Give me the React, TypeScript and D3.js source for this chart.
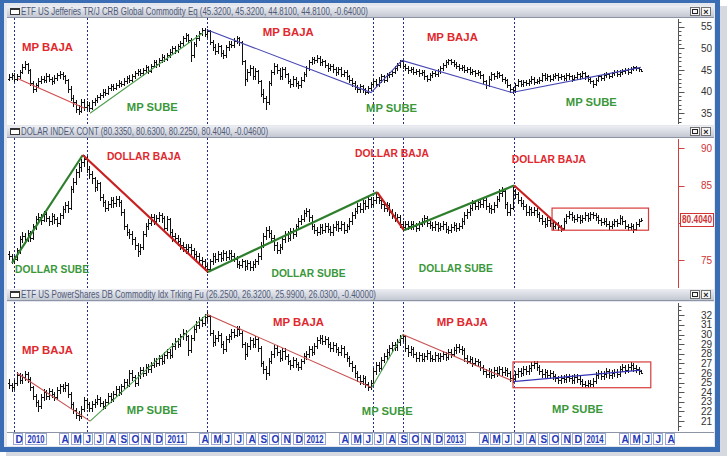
import React from "react";
import * as d3 from "d3";

// ---------- DATA ----------
const FIRST_FRIDAY = "2009-11-20"; // weekly bars, one per Friday

// weekly bars [low, high, close]; each bar opens at the previous close
const crbOpen0 = 43.0;
const crbBars: number[][] = [
  [42.6,44.0,43.3],[42.9,44.4,43.8],[42.5,44.2,43.0],[42.6,44.1,43.5],[43.2,45.0,44.5],[44.2,46.4,45.8],[45.2,47.0,46.3],[44.4,46.6,45.0],[41.5,45.2,42.0],[40.0,42.4,40.5],
  [40.2,42.0,41.5],[41.0,43.2,42.5],[42.0,43.6,43.0],[42.2,43.5,42.8],[42.3,44.2,43.5],[42.5,44.0,43.0],[41.8,43.4,42.5],[42.0,43.8,43.2],[42.8,44.3,43.8],[43.2,44.8,44.0],
  [43.0,44.5,43.5],[42.0,43.9,42.8],[40.0,43.0,40.5],[38.0,41.2,38.5],[36.8,39.2,37.5],[35.3,38.0,36.0],[34.8,37.0,35.5],[35.2,38.2,37.5],[35.8,38.4,36.5],[36.0,37.8,37.0],
  [35.6,37.5,36.2],[35.9,38.0,37.5],[37.0,38.6,38.0],[37.6,39.3,38.8],[38.3,39.8,39.2],[38.8,40.5,40.0],[39.2,40.6,39.8],[39.4,41.3,40.8],[40.3,41.8,41.2],[40.4,41.7,40.9],
  [40.5,42.1,41.6],[41.1,42.6,42.0],[41.3,42.5,41.8],[41.5,43.1,42.5],[42.1,43.7,43.2],[42.3,43.8,42.8],[42.4,44.1,43.6],[43.2,44.8,44.2],[43.8,45.3,44.8],[43.8,45.2,44.3],
  [43.9,45.5,45.0],[44.6,46.2,45.6],[44.2,45.9,44.8],[44.5,46.5,46.0],[45.6,47.4,46.8],[45.7,47.2,46.3],[46.0,47.8,47.2],[46.8,48.6,48.0],[47.0,48.5,47.6],[47.2,49.0,48.4],
  [48.0,49.8,49.2],[48.8,50.6,50.0],[49.0,50.5,49.6],[49.2,51.0,50.5],[50.0,51.8,51.2],[50.8,52.8,52.3],[51.8,53.6,53.0],[51.4,53.4,52.0],[47.0,52.3,48.5],[48.0,51.5,51.0],
  [50.6,53.0,52.5],[52.0,54.0,53.6],[53.0,54.8,54.3],[52.8,54.6,53.4],[52.6,54.5,54.0],[51.0,54.2,51.5],[49.6,52.0,50.3],[48.8,51.0,49.5],[49.0,51.2,50.5],[48.2,50.8,49.0],
  [47.8,49.6,48.5],[48.0,50.8,50.2],[49.6,51.6,51.0],[50.2,51.6,50.8],[50.3,52.4,51.8],[51.2,52.9,52.3],[50.8,52.6,51.5],[46.5,51.8,47.0],[41.5,47.3,43.0],[42.5,45.2,44.5],
  [43.8,46.2,45.5],[43.0,46.0,43.5],[43.0,45.4,44.8],[42.0,45.0,42.5],[39.0,42.8,39.5],[37.6,40.5,38.5],[36.0,39.0,37.5],[37.2,42.5,42.0],[41.5,45.0,44.5],[44.0,46.6,46.0],
  [44.3,46.5,45.0],[43.0,45.4,43.5],[43.0,45.8,45.2],[43.4,45.6,44.0],[42.0,44.3,42.5],[41.0,43.0,41.8],[41.4,43.6,43.0],[41.4,43.4,42.0],[40.8,42.5,41.5],[41.0,43.3,42.8],
  [42.4,44.5,44.0],[43.6,46.0,45.5],[45.0,47.3,46.8],[46.3,48.0,47.5],[46.6,48.1,47.2],[46.8,48.4,47.8],[46.2,48.2,46.8],[46.2,47.6,47.0],[45.6,47.4,46.2],[44.8,46.6,45.5],
  [45.0,46.5,46.0],[44.6,46.4,45.2],[43.9,45.6,44.5],[44.0,45.8,45.3],[43.5,45.6,44.0],[43.5,45.1,44.6],[42.9,45.0,43.5],[42.2,43.9,42.8],[41.4,43.2,42.0],[40.5,42.4,41.0],
  [39.9,41.5,40.5],[40.0,41.8,41.3],[40.0,41.6,40.5],[39.5,40.9,40.0],[39.7,41.3,40.8],[40.4,42.3,41.8],[41.3,43.0,42.5],[41.2,42.9,41.8],[41.4,43.3,42.8],[42.3,44.0,43.5],
  [42.3,43.9,42.8],[42.5,44.2,43.8],[43.3,44.6,44.0],[43.6,45.0,44.5],[44.2,46.0,45.5],[45.0,46.7,46.2],[45.8,47.4,47.0],[45.5,47.2,46.0],[45.0,46.4,45.5],[44.4,45.9,45.0],
  [44.6,45.8,45.3],[44.0,45.6,44.5],[44.0,45.3,44.8],[43.7,45.2,44.2],[43.8,45.0,44.6],[43.0,44.9,43.5],[42.4,43.9,43.0],[42.6,44.3,43.8],[43.4,44.7,44.2],[43.5,44.8,44.0],
  [43.6,45.2,44.8],[44.4,46.0,45.5],[45.1,46.6,46.2],[45.8,47.2,46.8],[46.3,47.6,47.2],[46.3,47.5,46.8],[46.0,47.2,46.5],[45.5,46.9,46.0],[45.0,46.4,45.5],[45.0,46.2,45.8],
  [44.5,46.1,45.0],[44.6,45.8,45.3],[44.1,45.6,44.6],[44.1,45.2,44.8],[43.7,45.1,44.2],[43.8,45.0,44.5],[43.2,44.8,43.8],[42.0,44.1,42.5],[40.9,42.8,41.5],[41.2,43.5,43.0],
  [42.6,44.5,44.0],[43.0,44.4,43.5],[43.1,44.7,44.2],[43.3,44.6,43.8],[42.5,44.1,43.0],[42.0,43.4,42.6],[41.0,42.9,41.5],[39.9,41.8,40.5],[39.6,41.0,40.3],[40.0,42.0,41.5],
  [41.2,43.0,42.5],[41.3,42.8,41.8],[41.4,42.8,42.3],[41.5,42.7,42.0],[41.6,43.0,42.5],[42.1,43.6,43.0],[41.8,43.3,42.3],[41.9,43.0,42.5],[42.1,43.3,42.8],[42.5,44.3,43.8],
  [42.7,44.2,43.2],[42.8,44.0,43.5],[42.5,43.9,43.0],[42.6,44.1,43.6],[43.1,44.3,43.8],[42.8,44.2,43.3],[42.9,44.0,43.5],[42.7,43.9,43.2],[42.8,44.4,43.8],[43.0,44.2,43.5],
  [42.4,43.9,43.0],[42.6,43.8,43.3],[43.0,44.6,44.0],[43.0,44.4,43.5],[43.1,44.7,44.2],[43.0,44.5,43.5],[42.5,43.9,43.0],[41.9,43.4,42.5],[41.0,42.8,41.8],[41.5,43.2,42.8],
  [42.4,43.9,43.5],[42.7,43.9,43.2],[42.8,44.2,43.8],[43.3,44.5,44.0],[43.1,44.4,43.6],[43.3,44.6,44.2],[43.8,45.0,44.5],[43.5,44.9,44.0],[43.7,45.0,44.6],[44.1,45.3,44.8],
  [44.3,45.5,45.0],[44.1,45.4,44.6],[44.3,45.6,45.2],[44.9,46.0,45.6],[44.9,45.9,45.4],[44.8,45.8,45.3],[44.81,45.32,44.81],
];

const dxyOpen0 = 75.8;
const dxyBars: number[][] = [
  [75.1,76.2,75.5],[74.6,75.8,74.9],[74.6,75.6,75.2],[75.0,76.6,76.3],[76.0,78.2,77.8],[77.4,78.8,78.2],[77.3,78.6,77.8],[77.5,79.0,78.6],[77.6,78.9,78.0],[77.8,79.8,79.5],
  [79.2,80.9,80.5],[80.1,81.3,80.8],[79.9,81.2,80.4],[80.2,81.6,81.2],[80.2,81.5,80.6],[79.7,80.9,80.2],[79.9,81.3,80.9],[80.0,81.2,80.5],[79.6,80.8,80.0],[79.8,81.3,81.0],
  [80.7,82.2,81.8],[81.5,82.8,82.4],[81.4,82.9,82.0],[81.8,84.9,84.5],[84.1,86.0,85.5],[85.2,87.2,86.8],[86.2,88.0,87.5],[87.0,88.6,88.2],[87.6,89.1,88.6],[86.8,88.9,87.2],
  [86.0,87.6,86.5],[85.4,86.9,86.0],[84.3,86.2,84.8],[84.4,85.8,85.3],[83.0,85.5,83.5],[82.2,83.9,82.8],[81.6,83.1,82.0],[81.7,82.9,82.5],[82.1,83.5,83.0],[82.1,83.4,82.6],
  [82.3,83.6,83.2],[82.2,83.6,82.8],[81.0,83.0,81.5],[79.1,81.8,79.5],[78.3,79.9,78.8],[78.0,79.2,78.5],[77.2,78.9,77.8],[76.5,78.1,77.0],[75.6,77.3,76.2],[75.8,77.2,76.8],
  [76.5,78.9,78.5],[78.2,80.0,79.6],[79.2,80.5,80.0],[79.7,81.2,80.8],[79.8,81.2,80.3],[79.9,81.0,80.6],[80.2,81.5,81.0],[80.1,81.3,80.6],[78.9,80.9,79.3],[79.0,80.9,80.5],
  [78.4,80.7,78.8],[77.6,79.1,78.2],[77.5,78.6,78.0],[77.0,78.3,77.5],[76.5,77.9,77.0],[76.2,77.4,76.8],[76.0,77.2,76.5],[76.1,77.2,76.8],[75.8,77.1,76.3],[75.3,76.6,75.8],
  [75.1,76.2,75.6],[74.5,75.9,75.0],[74.3,75.4,74.8],[73.7,75.1,74.2],[73.4,74.6,73.8],[73.6,75.2,74.8],[74.5,75.9,75.5],[74.7,75.9,75.2],[74.9,76.2,75.8],[74.9,76.1,75.3],
  [75.0,76.3,75.9],[75.0,76.2,75.4],[75.1,76.4,76.0],[75.2,76.3,75.6],[74.8,75.9,75.2],[74.1,75.5,74.5],[73.9,74.9,74.3],[74.0,75.2,74.8],[73.7,75.0,74.2],[73.8,75.0,74.6],
  [73.6,74.9,74.0],[73.6,74.9,74.5],[74.1,75.2,74.8],[74.5,75.9,75.5],[75.2,77.4,77.0],[76.7,78.6,78.2],[77.8,79.4,79.0],[78.1,79.5,78.6],[77.5,79.0,78.0],[76.4,78.3,77.0],
  [75.9,77.4,76.3],[75.9,77.2,76.8],[76.5,78.2,77.8],[77.4,78.9,78.5],[77.5,78.9,78.0],[77.7,79.3,78.9],[78.0,79.3,78.5],[78.2,79.9,79.5],[79.1,80.6,80.2],[79.8,81.0,80.5],
  [80.2,81.7,81.3],[80.9,82.0,81.6],[80.3,81.9,80.8],[79.1,81.0,79.5],[78.6,79.9,79.0],[78.3,79.4,78.8],[78.5,79.8,79.4],[78.6,79.8,79.0],[78.7,80.0,79.6],[78.8,80.0,79.2],
  [78.3,79.6,78.7],[78.4,79.8,79.4],[79.0,80.3,79.9],[78.9,80.2,79.3],[79.0,80.2,79.8],[78.6,80.1,79.0],[78.7,79.9,79.5],[79.2,80.6,80.2],[79.9,81.4,81.0],[80.7,82.0,81.6],
  [81.3,82.6,82.2],[81.4,82.6,81.8],[81.5,83.0,82.6],[81.9,83.0,82.3],[82.0,83.6,83.2],[82.1,83.5,82.5],[82.2,83.4,83.0],[82.6,84.0,83.5],[82.6,83.9,83.0],[82.0,83.3,82.5],
  [81.6,82.9,82.0],[81.6,82.8,82.4],[81.1,82.6,81.5],[80.6,81.8,81.0],[80.2,81.4,80.6],[80.2,81.2,80.8],[79.4,81.0,79.8],[79.0,80.2,79.4],[79.1,80.2,79.8],[79.1,80.2,79.5],
  [79.2,80.3,79.9],[79.2,80.2,79.6],[78.9,80.0,79.3],[79.0,80.2,79.8],[79.5,80.6,80.2],[79.9,81.0,80.6],[79.6,80.9,80.0],[79.3,80.3,79.7],[79.0,80.1,79.4],[79.0,80.2,79.8],
  [78.9,80.1,79.3],[79.0,80.0,79.6],[79.2,80.2,79.8],[78.8,80.1,79.2],[78.6,79.6,79.0],[78.7,79.8,79.4],[79.0,80.1,79.7],[78.9,80.0,79.3],[79.0,80.0,79.6],[79.3,80.6,80.2],
  [79.9,81.4,81.0],[80.7,81.9,81.5],[81.1,82.4,82.0],[81.7,83.0,82.6],[81.8,83.0,82.2],[81.9,83.2,82.8],[82.1,83.2,82.5],[82.1,83.4,83.0],[81.8,83.3,82.2],[81.5,82.6,82.0],
  [81.3,82.4,81.8],[81.5,82.8,82.4],[82.1,83.6,83.2],[82.9,84.5,84.0],[83.6,84.8,84.3],[82.0,84.5,82.5],[81.0,82.8,81.5],[81.0,82.5,82.0],[81.8,84.8,84.2],[83.3,84.6,83.8],
  [82.6,84.1,83.0],[82.2,83.4,82.6],[81.8,83.0,82.2],[81.1,82.5,81.5],[81.1,82.2,81.8],[81.0,82.1,81.4],[81.0,82.1,81.7],[80.8,82.0,81.2],[80.2,81.5,80.6],[79.9,81.0,80.3],
  [79.4,80.6,79.8],[79.5,80.8,80.4],[79.6,80.7,80.0],[79.2,80.3,79.6],[79.3,80.1,79.8],[79.0,80.1,79.4],[78.9,79.7,79.3],[79.1,80.6,80.2],[80.0,81.2,80.9],[80.6,81.6,81.2],
  [80.4,81.5,80.8],[80.1,81.1,80.5],[80.2,81.2,80.8],[80.0,81.1,80.4],[80.1,81.1,80.7],[80.4,81.4,81.0],[80.3,81.3,80.6],[80.4,81.5,81.2],[80.6,81.5,81.0],[80.4,81.3,80.8],
  [80.0,81.1,80.4],[79.7,80.7,80.1],[79.8,80.6,80.3],[79.5,80.6,79.9],[79.2,80.2,79.6],[79.3,80.2,79.9],[79.6,80.5,80.2],[79.6,80.5,80.0],[79.8,81.0,80.6],[79.9,80.9,80.2],
  [79.3,80.4,79.6],[79.0,79.9,79.4],[79.1,80.0,79.6],[78.8,79.8,79.2],[79.0,80.1,79.8],[79.6,80.5,80.2],[80.225,80.63,80.404],
];

const dbcOpen0 = 25.0;
const dbcBars: number[][] = [
  [24.4,25.4,24.8],[24.1,25.0,24.5],[24.3,25.3,25.0],[24.8,26.1,25.8],[25.0,26.0,25.3],[25.0,25.9,25.6],[25.3,26.2,25.9],[25.1,26.1,25.4],[24.2,25.6,24.5],[23.3,24.7,23.6],
  [22.6,23.8,23.0],[22.1,23.2,22.6],[22.4,23.8,23.5],[23.2,24.3,24.0],[23.3,24.2,23.6],[23.3,24.4,24.1],[23.5,24.3,23.8],[23.2,24.0,23.5],[23.3,24.5,24.2],[23.9,24.9,24.6],
  [24.1,24.9,24.4],[24.1,25.1,24.8],[23.5,25.0,23.8],[22.4,24.0,22.8],[21.8,23.0,22.2],[21.3,22.4,21.6],[21.1,22.0,21.5],[21.3,22.6,22.3],[22.1,23.5,23.2],[22.4,23.4,22.8],
  [22.1,23.0,22.4],[22.1,23.1,22.8],[22.5,23.3,23.0],[22.8,23.7,23.3],[22.6,23.5,22.9],[22.3,23.1,22.6],[22.4,23.3,23.0],[22.8,23.9,23.6],[23.0,23.9,23.3],[23.1,24.1,23.8],
  [23.6,24.6,24.3],[23.7,24.6,24.0],[23.8,24.9,24.6],[24.4,25.4,25.1],[24.5,25.4,24.8],[24.6,26.3,26.0],[25.3,26.3,25.6],[24.7,25.8,25.0],[24.8,26.1,25.8],[25.5,26.6,26.3],
  [25.7,26.6,26.0],[25.8,26.9,26.6],[26.1,26.9,26.4],[26.1,27.1,26.8],[26.6,27.6,27.3],[26.7,27.6,27.0],[26.8,27.9,27.6],[26.9,27.9,27.2],[27.0,28.2,27.9],[27.6,28.5,28.2],
  [27.6,28.5,27.9],[27.7,29.1,28.8],[28.5,29.6,29.3],[28.7,29.6,29.0],[28.8,30.1,29.8],[29.5,30.6,30.2],[29.4,30.5,29.8],[27.9,30.0,28.4],[28.2,29.9,29.6],[29.4,30.9,30.6],
  [30.3,31.4,31.0],[30.7,31.8,31.5],[30.9,31.8,31.2],[31.0,32.1,31.8],[31.4,32.3,31.9],[29.9,32.0,30.2],[28.8,30.5,29.2],[28.9,29.9,29.6],[29.3,30.4,30.0],[28.7,30.2,29.0],
  [28.1,29.3,28.5],[28.3,29.8,29.5],[29.2,30.1,29.8],[29.5,30.6,30.3],[29.7,30.6,30.0],[29.8,30.9,30.6],[29.9,30.9,30.2],[28.7,30.4,29.0],[27.5,29.2,28.0],[27.8,29.1,28.8],
  [28.5,29.7,29.4],[28.7,29.6,29.0],[28.7,29.8,29.5],[28.3,29.7,28.6],[26.7,28.8,27.0],[26.0,27.3,26.4],[25.4,26.7,26.0],[25.8,27.6,27.3],[27.0,28.3,28.0],[27.7,28.9,28.6],
  [27.9,28.9,28.2],[27.3,28.4,27.6],[27.4,28.6,28.3],[27.5,28.6,27.8],[26.9,28.0,27.2],[26.4,27.4,26.8],[26.6,27.7,27.4],[26.6,27.6,26.9],[26.3,27.1,26.6],[26.4,27.5,27.2],
  [27.0,28.1,27.8],[27.5,28.3,28.0],[27.7,28.8,28.5],[27.9,28.8,28.2],[28.0,29.1,28.8],[28.6,29.7,29.4],[29.1,29.9,29.6],[29.0,29.9,29.3],[29.0,29.8,29.5],[28.7,29.7,29.0],
  [28.3,29.2,28.6],[28.3,29.2,28.9],[28.2,29.1,28.5],[27.9,28.7,28.2],[27.9,28.9,28.6],[27.7,28.8,28.0],[27.3,28.2,27.6],[26.7,27.8,27.0],[26.2,27.2,26.6],[25.6,26.8,26.0],
  [25.2,26.2,25.6],[24.9,25.8,25.2],[24.9,25.8,25.5],[24.5,25.7,24.9],[24.2,25.1,24.5],[24.3,25.3,25.0],[24.8,26.5,26.2],[25.9,27.1,26.8],[26.2,27.1,26.5],[26.3,27.7,27.4],
  [27.1,28.1,27.8],[27.5,28.5,28.2],[27.9,28.9,28.6],[28.3,29.2,28.9],[28.4,29.2,28.7],[28.4,29.5,29.2],[28.9,29.9,29.6],[29.3,30.1,29.8],[28.3,30.0,28.6],[27.8,28.9,28.2],
  [27.9,28.8,28.5],[27.7,28.7,28.0],[27.3,28.2,27.6],[27.3,28.2,27.9],[27.2,28.1,27.5],[27.2,28.1,27.8],[27.5,28.4,28.1],[27.3,28.3,27.6],[27.2,27.9,27.5],[27.2,28.2,27.9],
  [27.3,28.1,27.6],[27.3,28.1,27.8],[27.5,28.3,28.0],[27.4,28.2,27.7],[27.5,28.5,28.2],[27.7,28.5,28.0],[27.8,28.7,28.4],[28.1,29.0,28.7],[28.2,29.0,28.5],[28.0,28.8,28.4],
  [27.3,28.6,27.6],[27.0,27.9,27.3],[27.0,27.8,27.5],[26.7,27.7,27.0],[26.8,27.6,27.3],[26.8,27.5,27.1],[26.3,27.3,26.6],[25.9,26.8,26.2],[25.6,26.4,25.9],[25.6,26.5,26.2],
  [25.5,26.4,25.8],[25.6,26.6,26.3],[25.7,26.6,26.0],[25.8,26.7,26.4],[25.8,26.6,26.1],[25.8,26.6,26.3],[25.7,26.5,26.0],[25.2,26.2,25.5],[25.1,25.8,25.4],[25.2,26.2,25.9],
  [25.6,26.5,26.2],[25.7,26.5,26.0],[25.8,26.7,26.4],[25.9,26.7,26.2],[25.9,26.8,26.5],[26.2,27.1,26.8],[26.5,27.2,27.0],[26.3,27.2,26.6],[25.9,26.8,26.2],[25.6,26.4,25.9],
  [25.6,26.4,26.1],[25.5,26.3,25.8],[25.5,26.3,26.0],[25.4,26.2,25.7],[25.2,25.9,25.5],[25.0,25.7,25.3],[25.0,25.8,25.5],[25.1,25.8,25.4],[25.1,25.9,25.6],[25.2,25.9,25.5],
  [25.0,25.8,25.3],[25.0,25.9,25.6],[25.1,25.9,25.4],[24.9,25.7,25.2],[24.6,25.4,24.9],[24.5,25.2,24.8],[24.5,25.3,25.0],[24.6,25.3,24.9],[24.6,25.5,25.2],[25.0,26.1,25.8],
  [25.5,26.3,26.0],[25.4,26.2,25.7],[25.4,26.2,25.9],[25.6,26.5,26.2],[25.5,26.4,25.8],[25.5,26.3,26.0],[25.7,26.4,26.1],[25.6,26.4,25.9],[25.7,26.7,26.4],[26.2,26.9,26.6],
  [26.0,26.8,26.3],[26.1,26.9,26.6],[26.3,27.1,26.8],[26.2,27.0,26.5],[26.1,26.8,26.4],[25.9,26.6,26.2],[25.99,26.32,26.03],
];

// titles
const crbTitle = "ETF US Jefferies TR/J CRB Global Commodity Eq (45.3200, 45.3200, 44.8100, 44.8100, -0.64000)";
const dxyTitle = "DOLAR INDEX CONT (80.3350, 80.6300, 80.2250, 80.4040, -0.04600)";
const dbcTitle = "ETF US PowerShares DB Commodity Idx Trking Fu (26.2500, 26.3200, 25.9900, 26.0300, -0.40000)";

// axis tick labels (the dollar's 80 tick sits under the last-value box)
const crbTicks = [35, 40, 45, 50, 55];
const dxyTicks = [75, 85, 90];
const dxyTickMarks = [75, 80, 85, 90];
const dbcTicks = [21, 22, 23, 24, 25, 26, 27, 28, 29, 30, 31, 32];
const dxyLast = 80.404;

// vertical dotted turning-point dates
const eventDates = ["2009-12-04", "2010-06-11", "2011-04-22", "2012-06-27", "2012-09-14", "2013-07-01"];

// trend lines: [date, price] vertices
type Trend = { c: string; pts: [string, number][] };
const crbTrends: Trend[] = [
  { c: "red", pts: [["2009-12-14", 43.0], ["2010-06-07", 36.1]] },
  { c: "green", pts: [["2010-06-20", 35.0], ["2011-04-11", 53.6]] },
  { c: "blue", pts: [["2011-04-21", 54.3], ["2012-06-23", 39.8], ["2012-09-12", 47.2], ["2013-06-26", 39.8], ["2014-05-29", 45.6]] },
];
const dxyTrends: Trend[] = [
  { c: "green", pts: [["2009-11-28", 74.6], ["2010-06-01", 89.1]] },
  { c: "red", pts: [["2010-06-01", 89.1], ["2011-04-24", 73.4]] },
  { c: "green", pts: [["2011-04-24", 73.4], ["2012-07-09", 84.1]] },
  { c: "red", pts: [["2012-07-09", 84.1], ["2012-09-17", 79.0]] },
  { c: "green", pts: [["2012-09-17", 79.0], ["2013-07-02", 85.0]] },
  { c: "red", pts: [["2013-07-02", 85.0], ["2013-11-09", 79.0]] },
];
const dbcTrends: Trend[] = [
  { c: "red", pts: [["2009-12-11", 26.0], ["2010-06-20", 21.0]] },
  { c: "green", pts: [["2010-06-20", 21.0], ["2011-04-21", 32.1]] },
  { c: "red", pts: [["2011-04-21", 32.1], ["2012-06-25", 24.5]] },
  { c: "green", pts: [["2012-06-25", 24.5], ["2012-09-14", 30.0]] },
  { c: "red", pts: [["2012-09-14", 30.0], ["2013-06-26", 25.2]] },
  { c: "blue", pts: [["2013-06-29", 25.1], ["2014-05-29", 26.3]] },
];

// range boxes [fromDate, toDate, low, high]
const dxyBox: [string, string, number, number] = ["2013-10-09", "2014-06-18", 79.0, 81.97];
const dbcBox: [string, string, number, number] = ["2013-06-29", "2014-06-24", 24.47, 27.15];

// annotations [date, price(baseline), text, kind]
type Note = [string, number, string, "up" | "down"];
const crbNotes: Note[] = [
  ["2009-12-24", 49.4, "MP BAJA", "down"],
  ["2010-09-24", 35.5, "MP SUBE", "up"],
  ["2011-09-14", 52.85, "MP BAJA", "down"],
  ["2012-11-16", 51.7, "MP BAJA", "down"],
  ["2012-06-10", 35.3, "MP SUBE", "up"],
  ["2013-11-14", 36.7, "MP SUBE", "up"],
];
const dxyNotes: Note[] = [
  ["2010-08-03", 88.43, "DOLLAR BAJA", "down"],
  ["2009-12-06", 73.26, "DOLLAR SUBE", "up"],
  ["2011-10-07", 72.73, "DOLLAR SUBE", "up"],
  ["2012-05-12", 88.83, "DOLLAR BAJA", "down"],
  ["2013-06-26", 88.03, "DOLLAR BAJA", "down"],
  ["2012-10-26", 73.4, "DOLLAR SUBE", "up"],
];
const dbcNotes: Note[] = [
  ["2009-12-24", 27.98, "MP BAJA", "down"],
  ["2010-09-24", 21.74, "MP SUBE", "up"],
  ["2011-10-11", 30.89, "MP BAJA", "down"],
  ["2012-12-12", 30.89, "MP BAJA", "down"],
  ["2012-05-30", 21.64, "MP SUBE", "up"],
  ["2013-10-09", 21.84, "MP SUBE", "up"],
];

const monthLetters = ["J", "F", "M", "A", "M", "J", "J", "A", "S", "O", "N", "D"];

// ---------- CHART ----------
const parse = d3.timeParse("%Y-%m-%d");
const P = (s: string) => parse(s) as Date;

const PLOT_L = 7, PLOT_R = 677, RIGHT = 714;

export default function App() {
  const x = d3.scaleTime().domain([new Date(2010, 0, 1), new Date(2014, 0, 1)]).range([25, 584.2]);
  const start = P(FIRST_FRIDAY);
  const weekX = (i: number) => x(d3.timeDay.offset(start, 7 * i));

  const panels = [
    {
      id: "p1", title: crbTitle, titleW: 347, titleTop: 6, top: 17, bottom: 125,
      bars: crbBars, open0: crbOpen0, y: d3.scaleLinear().domain([35, 55]).range([113.3, 26.7]),
      ticks: crbTicks, tickMarks: crbTicks, minor: d3.range(33, 58, 1), minorLen: 3, majorLen: 6, axisColor: "#555", labelColor: "#333",
      trends: crbTrends, trendW: 1.1, notes: crbNotes, box: null as any, last: null as any,
    },
    {
      id: "p2", title: dxyTitle, titleW: 247, titleTop: 126, top: 137, bottom: 289,
      bars: dxyBars, open0: dxyOpen0, y: d3.scaleLinear().domain([75, 90]).range([260, 148.3]),
      ticks: dxyTicks, tickMarks: dxyTickMarks, minor: [] as number[], minorLen: 0, majorLen: 6, axisColor: "#d04040", labelColor: "#d03434",
      trends: dxyTrends, trendW: 2.2, notes: dxyNotes, box: dxyBox, last: dxyLast,
    },
    {
      id: "p3", title: dbcTitle, titleW: 355, titleTop: 289, top: 301, bottom: 432,
      bars: dbcBars, open0: dbcOpen0, y: d3.scaleLinear().domain([21, 32]).range([421.1, 315.3]),
      ticks: dbcTicks, tickMarks: dbcTicks, minor: d3.range(20.5, 33.5, 0.5), minorLen: 3, majorLen: 6, axisColor: "#555", labelColor: "#333",
      trends: dbcTrends, trendW: 1.1, notes: dbcNotes, box: dbcBox, last: null as any,
    },
  ];

  const trendColor: Record<string, Record<string, string>> = {
    p1: { red: "#d24a4a", green: "#4e9d4e", blue: "#4646b4" },
    p2: { red: "#c82020", green: "#2d7e2d", blue: "#3030b0" },
    p3: { red: "#c85050", green: "#4e9d4e", blue: "#3535b8" },
  };

  const months = d3.timeMonth.range(new Date(2009, 11, 1), new Date(2014, 8, 1)).filter((m) => m.getMonth() !== 1 && m.getMonth() !== 2);

  return (
    <svg width={728} height={456} style={{ position: "absolute", left: 0, top: 0, background: "#fff" }} fontFamily="Arial, 'Liberation Sans', sans-serif">
      <defs>
        <linearGradient id="tb" x1="0" y1="0" x2="0" y2="1">
          <stop offset="0" stopColor="#eceef3" />
          <stop offset="1" stopColor="#c4c8d2" />
        </linearGradient>
        {panels.map((p) => (
          <clipPath id={`clip-${p.id}`} key={p.id}>
            <rect x={PLOT_L} y={p.top} width={PLOT_R - PLOT_L} height={p.bottom - p.top} />
          </clipPath>
        ))}
      </defs>

      {/* window frame with shadow */}
      <rect x={6} y={6} width={721} height={450} fill="#d6d9df" />
      <rect x={0} y={0} width={720} height={452} fill="#3a6db4" />
      <rect x={4} y={3} width={711} height={444} fill="#e4e7ee" />

      {panels.map((p) => {
        const y = p.y;
        // OHLC bars
        let prev = p.open0;
        let d = "";
        p.bars.forEach((b, i) => {
          const [lo, hi, c] = b;
          const o = prev;
          prev = c;
          const cx = Math.round(weekX(i)) + 0.5;
          const yt = Math.round(y(Math.max(hi, o, c)));
          const yb = Math.round(y(Math.min(lo, o, c)));
          const yo = Math.round(y(o)) + 0.5;
          const yc = Math.round(y(c)) + 0.5;
          d += `M${cx},${yt}V${yb + 1}M${cx - 1.5},${yo}H${cx - 0.5}M${cx + 0.5},${yc}H${cx + 1.5}`;
        });
        const line = d3.line<[string, number]>().x((v) => x(P(v[0]))).y((v) => y(v[1]));
        const colors = trendColor[p.id];
        return (
          <g key={p.id}>
            {/* title bar */}
            <rect x={PLOT_L} y={p.titleTop} width={RIGHT - PLOT_L} height={11} fill="url(#tb)" />
            <line x1={PLOT_L} x2={RIGHT} y1={p.titleTop + 11.5} y2={p.titleTop + 11.5} stroke="#8d94a6" />
            <rect x={10.5} y={p.titleTop + 2.5} width={9} height={6} fill="#fff" stroke="#333" strokeWidth={1} />
            <rect x={10.5} y={p.titleTop + 2.5} width={9} height={1.5} fill="#333" />
            <text x={21} y={p.titleTop + 9.3} fontSize={10} fill="#4f5a78" textLength={p.titleW} lengthAdjust="spacingAndGlyphs">{p.title}</text>
            <rect x={690.5} y={p.titleTop + 1.5} width={9} height={8} fill="#f6f6f6" stroke="#707070" />
            <rect x={692.5} y={p.titleTop + 3.5} width={5} height={4} fill="none" stroke="#222" />
            <rect x={701.5} y={p.titleTop + 1.5} width={9} height={8} fill="#f6f6f6" stroke="#707070" />
            <text x={706} y={p.titleTop + 8.6} fontSize={9} fontWeight="bold" textAnchor="middle" fill="#222">×</text>

            {/* plot and axis backgrounds */}
            <rect x={PLOT_L} y={p.top + 1} width={PLOT_R - PLOT_L} height={p.bottom - p.top - 1} fill="#fff" />
            <rect x={PLOT_R} y={p.top + 1} width={RIGHT - PLOT_R} height={p.bottom - p.top - 1} fill="#fff" />

            {/* right axis */}
            <line x1={PLOT_R + 1.5} x2={PLOT_R + 1.5} y1={p.top + 2} y2={p.bottom - 1} stroke={p.axisColor} />
            {p.minor.filter((v) => y(v) > p.top + 2 && y(v) < p.bottom - 1).map((v) => (
              <line key={`m${v}`} x1={PLOT_R + 1.5} x2={PLOT_R + 1.5 + p.minorLen} y1={Math.round(y(v)) + 0.5} y2={Math.round(y(v)) + 0.5} stroke={p.axisColor} />
            ))}
            {p.tickMarks.map((v) => (
              <line key={`tm${v}`} x1={PLOT_R + 1.5} x2={PLOT_R + 1.5 + p.majorLen} y1={Math.round(y(v)) + 0.5} y2={Math.round(y(v)) + 0.5} stroke={p.axisColor} />
            ))}
            {p.ticks.map((v) => (
              <text key={`t${v}`} x={712} y={y(v)} dy="0.35em" fontSize={10} textAnchor="end" fill={p.labelColor}>{v}</text>
            ))}

            <g clipPath={`url(#clip-${p.id})`}>
              {/* dotted event lines */}
              {eventDates.map((e) => (
                <line key={e} x1={Math.round(x(P(e))) + 0.5} x2={Math.round(x(P(e))) + 0.5} y1={p.top + 1} y2={p.bottom} stroke="#1f2d8f" strokeDasharray="2,2" />
              ))}
              <path d={d} stroke="#111" strokeWidth={1} fill="none" shapeRendering="crispEdges" />
              {p.trends.map((t, k) => (
                <path key={k} d={line(t.pts) as string} stroke={colors[t.c]} strokeWidth={p.trendW} fill="none" />
              ))}
              {p.box && (
                <rect x={x(P(p.box[0]))} y={y(p.box[3])} width={x(P(p.box[1])) - x(P(p.box[0]))} height={y(p.box[2]) - y(p.box[3])} fill="none" stroke="#d83a3a" strokeWidth={1.2} />
              )}
            </g>

            {p.notes.map((n, k) => (
              <text key={k} x={x(P(n[0]))} y={y(n[1])} fontSize={11.5} fontWeight="bold" fill={n[3] === "down" ? "#e0282d" : "#3a973a"}
                textLength={n[2].length > 8 ? 74 : 51} lengthAdjust="spacingAndGlyphs">{n[2]}</text>
            ))}

            {p.last !== null && (
              <g>
                <rect x={680.5} y={Math.round(y(p.last)) - 6.5} width={33} height={13} fill="#fff" stroke="#d03434" />
                <text x={697} y={y(p.last)} dy="0.36em" fontSize={10} fontWeight="bold" textAnchor="middle" fill="#d03434" textLength={30} lengthAdjust="spacingAndGlyphs">{p.last.toFixed(4)}</text>
              </g>
            )}
          </g>
        );
      })}

      {/* date strip */}
      <rect x={PLOT_L} y={432} width={RIGHT - PLOT_L} height={14} fill="#fff" />
      <line x1={PLOT_L} x2={RIGHT} y1={432.5} y2={432.5} stroke="#8d94a6" />
      {months.map((m, k) => {
        const isYear = m.getMonth() === 0;
        const label = isYear ? String(m.getFullYear()) : monthLetters[m.getMonth()];
        const mx = Math.round(x(m)) + 0.5;
        const w = isYear ? 21 : 9;
        return (
          <g key={k}>
            <rect x={mx} y={433.5} width={w} height={11} fill="#fff" stroke="#9aa6d2" />
            <text x={mx + 2} y={443} fontSize={10} fontWeight="bold" fill="#2438b8" textLength={isYear ? 17 : undefined} lengthAdjust="spacingAndGlyphs">{label}</text>
          </g>
        );
      })}
    </svg>
  );
}
